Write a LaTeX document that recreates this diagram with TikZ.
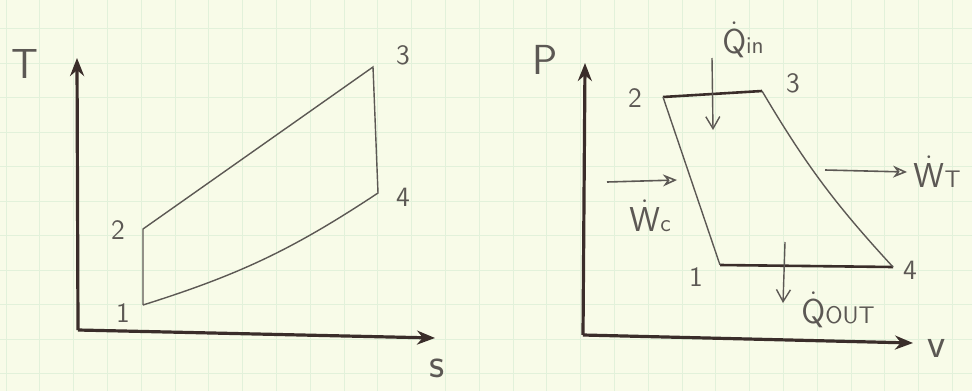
\documentclass[tikz,border=0pt]{standalone}
\usepackage{tikz}
\usetikzlibrary{arrows.meta}
\definecolor{paper}{RGB}{248,251,232}
\definecolor{gridline}{RGB}{226,241,218}
\definecolor{pencil}{RGB}{92,88,84}
\definecolor{ink}{RGB}{58,45,42}
\tikzset{
  axis/.style={ink,line width=1.6pt,-{Stealth[length=9pt,width=7pt]}},
  cycleline/.style={pencil,line width=.7pt},
  heavy/.style={ink,line width=1.3pt},
  heatflow/.style={pencil,line width=.7pt,-{Straight Barb[length=6pt,width=7pt]}},
  workflow/.style={pencil,line width=.8pt,-{Stealth[open,length=7pt,width=6pt]}},
  state/.style={text=pencil,inner sep=1pt,font=\sffamily\fontsize{14}{14}\selectfont},
  axlabel/.style={text=pencil,inner sep=1pt,font=\sffamily\fontsize{21}{21}\selectfont},
  flowlabel/.style={text=pencil,inner sep=1pt,font=\sffamily\fontsize{18}{18}\selectfont},
}
\newcommand{\lowsub}[1]{{\fontsize{12}{12}\selectfont #1}}
\newcommand{\rate}[1]{\ensuremath{\dot{\mathsf{#1}}}}
\begin{document}
\begin{tikzpicture}[x=.5pt,y=-.5pt,>=Stealth,font=\sffamily]
  \fill[paper] (0,0) rectangle (972,391);
  \useasboundingbox (0,0) rectangle (972,391);
  \foreach \i in {0,...,28}
    \draw[gridline,line width=.4pt] ({6+33.8*\i},0) -- ({6+33.8*\i},391);
  \foreach \j in {1,...,11}
    \draw[gridline,line width=.4pt] (0,{-6+34.5*\j}) -- (972,{-6+34.5*\j});

  \coordinate (to) at (78,330);
  \coordinate (tT) at (77,58);
  \coordinate (ts) at (435,338);
  \foreach \n/\x/\y in {1/143/305,2/143/229,3/373/67,4/378/193}
    \coordinate (t\n) at (\x,\y);
  \draw[axis] (to) -- (tT);
  \draw[axis] (to) -- (ts);
  \draw[cycleline] (t1) -- (t2) -- (t3) -- (t4) to[bend left=8] (t1);
  \foreach \n/\x/\y in {1/123/313,2/118/230,3/403/55,4/403/197}
    \node[state] (lt\n) at (\x,\y) {\n};
  \node[axlabel] (lT) at (25,64) {T};
  \node[axlabel] (ls) at (437,368) {s};

  \coordinate (po) at (583,335);
  \coordinate (pP) at (585,63);
  \coordinate (pv) at (913,343);
  \foreach \n/\x/\y in {1/720/265,2/663/97,3/762/91,4/893/267}
    \coordinate (p\n) at (\x,\y);
  \draw[axis] (po) -- (pP);
  \draw[axis] (po) -- (pv);
  \draw[heavy] (p2) -- (p3);
  \draw[heavy] (p1) -- (p4);
  \draw[cycleline] (p2) -- (p1);
  \draw[cycleline] (p3) to[bend right=6] (p4);
  \foreach \n/\x/\y in {1/696/277,2/635/98,3/793/83,4/910/270}
    \node[state] (lp\n) at (\x,\y) {\n};
  \node[axlabel] (lP) at (545,60) {P};
  \node[axlabel] (lv) at (937,348) {v};

  \coordinate (qin0) at (712,58);  \coordinate (qin1) at (713,130);
  \coordinate (qout0) at (785,242); \coordinate (qout1) at (783,303);
  \coordinate (wc0) at (607,182);  \coordinate (wc1) at (677,180);
  \coordinate (wt0) at (825,170);  \coordinate (wt1) at (907,172);
  \draw[heatflow] (qin0) -- (qin1);
  \draw[heatflow] (qout0) -- (qout1);
  \draw[workflow] (wc0) -- (wc1);
  \draw[workflow] (wt0) -- (wt1);
  \node[flowlabel] (lqin) at (743,40) {\rate{Q}\lowsub{in}};
  \node[flowlabel] (lqout) at (838,310) {\rate{Q}\lowsub{OUT}};
  \node[flowlabel] (lwc) at (650,216) {\rate{W}\lowsub{c}};
  \node[flowlabel] (lwt) at (937,172) {\rate{W}\lowsub{T}};
\end{tikzpicture}
\end{document}
